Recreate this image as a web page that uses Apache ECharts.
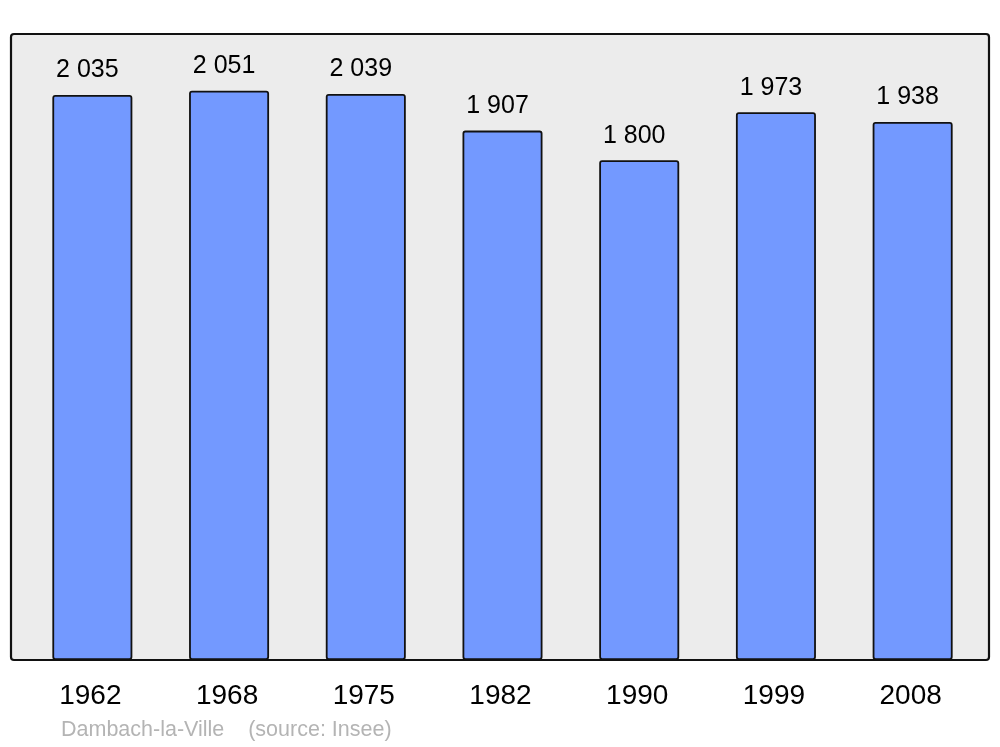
<!DOCTYPE html>
<html><head><meta charset="utf-8">
<script src="https://cdn.jsdelivr.net/npm/echarts@6/dist/echarts.min.js"></script>
<style>html,body{margin:0;padding:0;background:#fff}#c{width:1000px;height:747px}</style>
</head><body><div id="c"></div>
<script>
const categories = ['1962','1968','1975','1982','1990','1999','2008'];
const population = [2035, 2051, 2039, 1907, 1800, 1973, 1938];
const footerText = 'Dambach-la-Ville    (source: Insee)';

const fmt = v => String(v).replace(/\B(?=(\d{3})+(?!\d))/g, ' ');
const chart = echarts.init(document.getElementById('c'), null, {renderer:'canvas'});
chart.setOption({
  animation: false,
  graphic: [
    {type:'rect', shape:{x:11, y:34, width:978, height:626, r:3}, style:{fill:'#ececec', stroke:'#111', lineWidth:2.2}, z:-10, silent:true},
    {type:'text', left:61, top:719, style:{text: footerText, fill:'#b4b4b4', font:'21.5px "Liberation Sans", Arial, sans-serif'}}
  ],
  grid: {left:24, right:19, top:34, bottom:87},
  xAxis: {
    type:'category', data: categories,
    axisLine:{show:false}, axisTick:{show:false},
    axisLabel:{fontSize:28, color:'#000', fontFamily:'"Liberation Sans", Arial, sans-serif', margin:22, padding:[0,4,0,0]}
  },
  yAxis: {type:'value', min:0, max:2255, show:false, splitLine:{show:false}},
  series: [{
    type:'bar', data: population, barWidth:80,
    itemStyle:{color:'#7399ff', borderColor:'#111', borderWidth:1.8, borderRadius:2},
    label:{show:true, position:'top', distance:12, offset:[-5,0], formatter: p => fmt(p.value),
      fontSize:25, color:'#000', fontFamily:'"Liberation Sans", Arial, sans-serif'}
  }]
});
</script></body></html>
